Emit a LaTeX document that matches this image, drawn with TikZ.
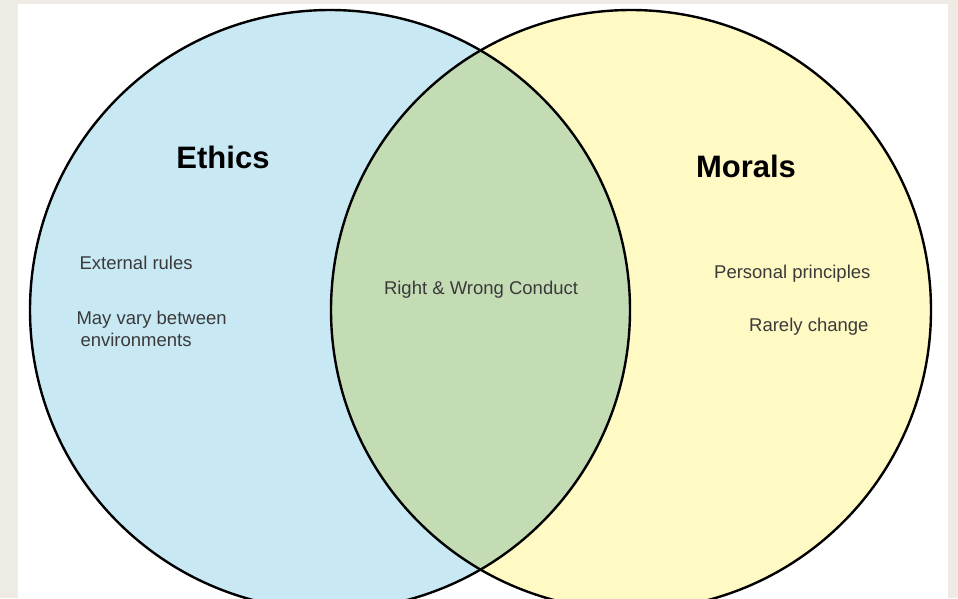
\documentclass[tikz,border=0pt]{standalone}
\usepackage{fontspec}
\setmainfont{Liberation Sans}
\usepackage{xcolor}
\usepackage{tikz}
\definecolor{framegray}{HTML}{EEEBE4}
\definecolor{ethicsblue}{HTML}{C8E9F4}
\definecolor{moralsyellow}{HTML}{FFF9C4}
\definecolor{overlapgreen}{HTML}{C3DCB4}
\definecolor{textgray}{HTML}{3A3A3A}

\begin{document}
\begin{tikzpicture}[x = 1pt, y = -1pt,
    title/.style = {font = \fontsize{31}{31}\selectfont\bfseries, text = black},
    item/.style = {font = \fontsize{18.5}{22}\selectfont, text = textgray, align = left}]
    \useasboundingbox (0, 0) rectangle (958, 598);
    \fill[framegray] (0, 0) rectangle (958, 598);
    \fill[white] (18, 4) rectangle (948, 598);
    \begin{scope}
      \clip (18, 4) rectangle (948, 598);
      \fill[ethicsblue] (330, 310) circle (300);
      \fill[moralsyellow] (631, 310) circle (300);
      \begin{scope}
        \clip (330, 310) circle (300);
        \fill[overlapgreen] (631, 310) circle (300);
      \end{scope}
      \draw[line width = 2.4] (330, 310) circle (300);
      \draw[line width = 2.4] (631, 310) circle (300);
    \end{scope}
    % labels
    \node[title] (ethics) at (223, 157) {Ethics};
    \node[title] (morals) at (746, 166) {Morals};
    \node[item, anchor = west] (external) at (76, 263) {External rules};
    \node[item, anchor = west] (vary) at (73, 329) {May vary between\\ \hspace{4pt}environments};
    \node[item] (conduct) at (481, 290) {Right \& Wrong Conduct};
    \node[item, anchor = east] (personal) at (874, 274) {Personal principles};
    \node[item, anchor = east] (rarely) at (872, 327) {Rarely change};
  \end{tikzpicture}
\end{document}
